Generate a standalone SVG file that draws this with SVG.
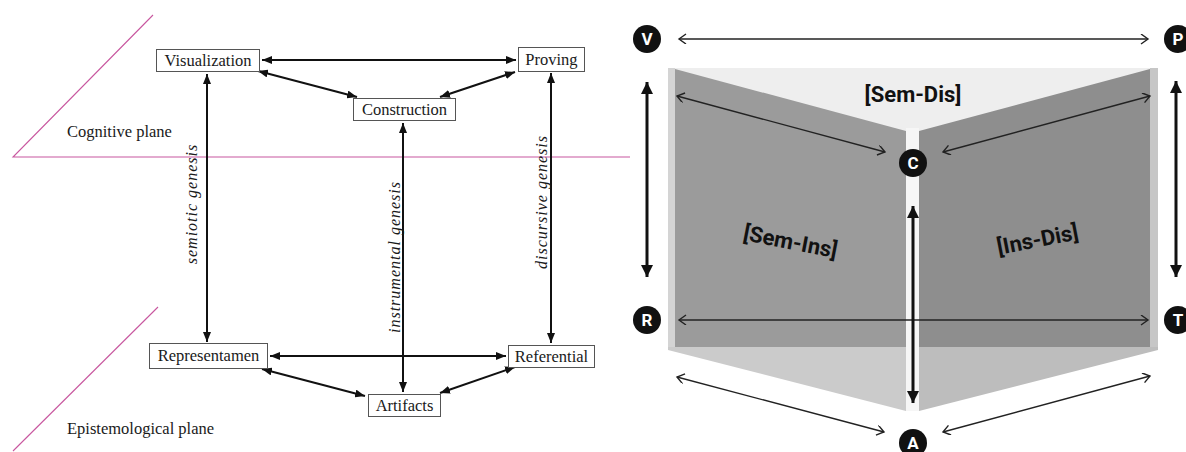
<svg xmlns="http://www.w3.org/2000/svg" width="1186" height="452" viewBox="0 0 1186 452">
<style>
.plane{stroke:#c8579f;stroke-width:1.1;fill:none}
.box{fill:#fff;stroke:#555;stroke-width:1}
.lbl{font-family:"Liberation Serif","DejaVu Serif",serif;font-size:16.5px;fill:#1a1a1a;text-anchor:middle}
.pl{font-family:"Liberation Serif","DejaVu Serif",serif;font-size:16.5px;fill:#1a1a1a}
.gen{font-family:"Liberation Serif","DejaVu Serif",serif;font-size:16px;font-style:italic;fill:#1a1a1a;text-anchor:middle;letter-spacing:1px}
.la{stroke:#111;stroke-width:2;fill:none;marker-start:url(#ah);marker-end:url(#ah)}
.thin{stroke:#222;stroke-width:1.4;fill:none;marker-start:url(#ch);marker-end:url(#ch)}
.thick{stroke:#111;stroke-width:3;fill:none;marker-start:url(#th);marker-end:url(#th)}
.cn{fill:#111}
.ct{font-family:Roboto,"Liberation Sans",sans-serif;font-weight:bold;font-size:17px;fill:#fff;text-anchor:middle}
.big{font-family:Roboto,"Liberation Sans",sans-serif;font-weight:bold;font-size:22px;fill:#111;text-anchor:middle}
</style>
<defs>
<marker id="ah" markerUnits="userSpaceOnUse" markerWidth="11" markerHeight="8" refX="10" refY="4" orient="auto-start-reverse"><path d="M0,0 L10,4 L0,8 z" fill="#111"/></marker>
<marker id="ch" markerUnits="userSpaceOnUse" markerWidth="10" markerHeight="12" refX="8" refY="5" orient="auto-start-reverse"><path d="M1,0 L8,5 L1,10" fill="none" stroke="#222" stroke-width="1.4"/></marker>
<marker id="th" markerUnits="userSpaceOnUse" markerWidth="13" markerHeight="12" refX="12" refY="6" orient="auto-start-reverse"><path d="M0,0 L12,6 L0,12 z" fill="#111"/></marker>
</defs>
<rect width="1186" height="452" fill="#fff"/>

<!-- Left panel: planes -->
<g id="planes">
<polyline class="plane" points="153,15 13,157 630,157"/>
<line class="plane" x1="158" y1="307" x2="13" y2="451"/>
<text class="pl" x="67" y="137">Cognitive plane</text>
<text class="pl" x="67" y="434">Epistemological plane</text>
</g>

<!-- Left connectors -->
<g id="connectors-left">
<line class="la" x1="262" y1="60" x2="516" y2="60"/>
<line class="la" x1="258" y1="71" x2="357" y2="97"/>
<line class="la" x1="440" y1="97" x2="515" y2="72"/>
<line class="la" x1="207" y1="74" x2="207" y2="342"/>
<line class="la" x1="403" y1="123" x2="403" y2="392"/>
<line class="la" x1="551" y1="73" x2="551" y2="343"/>
<line class="la" x1="270" y1="356" x2="506" y2="356"/>
<line class="la" x1="262" y1="369" x2="365" y2="396"/>
<line class="la" x1="440" y1="393" x2="515" y2="367"/>
<text class="gen" transform="translate(197,204) rotate(-90)">semiotic genesis</text>
<text class="gen" transform="translate(400,257) rotate(-90)">instrumental genesis</text>
<text class="gen" transform="translate(547,202) rotate(-90)">discursive genesis</text>
</g>

<!-- Left nodes -->
<g id="visualization"><rect class="box" x="156.5" y="49.5" width="103" height="22"/><text class="lbl" x="208" y="66">Visualization</text></g>
<g id="proving"><rect class="box" x="518.5" y="47.5" width="66" height="24"/><text class="lbl" x="551.5" y="65">Proving</text></g>
<g id="construction"><rect class="box" x="353.5" y="98.5" width="102" height="22"/><text class="lbl" x="404.5" y="115">Construction</text></g>
<g id="representamen"><rect class="box" x="149.5" y="343.5" width="118" height="25"/><text class="lbl" x="208.5" y="361">Representamen</text></g>
<g id="referential"><rect class="box" x="508.5" y="345.5" width="86" height="22"/><text class="lbl" x="551.5" y="362">Referential</text></g>
<g id="artifacts"><rect class="box" x="368.5" y="394.5" width="72" height="22"/><text class="lbl" x="404.5" y="411">Artifacts</text></g>

<!-- Right panel: book shapes -->
<g id="book">
<rect x="668" y="68" width="490" height="282" fill="#eeeeee"/>
<rect x="668" y="68" width="7" height="282" fill="#d4d4d4"/>
<rect x="1150" y="68" width="8" height="282" fill="#c6c6c6"/>
<polygon points="675,69 906,131 906,347 675,347" fill="#9b9b9b"/>
<polygon points="919,131 1150,69 1150,347 919,347" fill="#8e8e8e"/>
<polygon points="668,347 906,347 906,411 668,350" fill="#cbcbcb"/>
<polygon points="919,347 1158,347 1158,350 919,411" fill="#bdbdbd"/>
<rect x="906" y="128" width="13" height="283" fill="#f6f6f6"/>
<text class="big" x="913" y="102">[Sem-Dis]</text>
<text class="big" transform="translate(789,249) rotate(11)">[Sem-Ins]</text>
<text class="big" transform="translate(1039,247) rotate(-11)">[Ins-Dis]</text>
</g>

<!-- Right connectors -->
<g id="connectors-right">
<line class="thin" x1="679" y1="39" x2="1148" y2="39"/>
<line class="thin" x1="679" y1="320" x2="1148" y2="320"/>
<line class="thin" x1="677" y1="96" x2="885" y2="152"/>
<line class="thin" x1="1150" y1="96" x2="943" y2="152"/>
<line class="thin" x1="677" y1="377" x2="884" y2="432"/>
<line class="thin" x1="1150" y1="376" x2="943" y2="432"/>
<line class="thick" x1="647" y1="82" x2="647" y2="277"/>
<line class="thick" x1="1176" y1="81" x2="1176" y2="277"/>
<line class="thick" x1="913" y1="206" x2="913" y2="403"/>
</g>

<!-- Right nodes -->
<g id="node-v"><circle class="cn" cx="647" cy="39" r="14"/><text class="ct" x="647" y="45">V</text></g>
<g id="node-p"><circle class="cn" cx="1178" cy="39" r="14"/><text class="ct" x="1178" y="45">P</text></g>
<g id="node-c"><circle class="cn" cx="913" cy="163" r="14"/><text class="ct" x="913" y="169">C</text></g>
<g id="node-r"><circle class="cn" cx="647" cy="320" r="14"/><text class="ct" x="647" y="326">R</text></g>
<g id="node-t"><circle class="cn" cx="1178" cy="320" r="14"/><text class="ct" x="1178" y="326">T</text></g>
<g id="node-a"><circle class="cn" cx="913" cy="443" r="14"/><text class="ct" x="913" y="449">A</text></g>
</svg>
